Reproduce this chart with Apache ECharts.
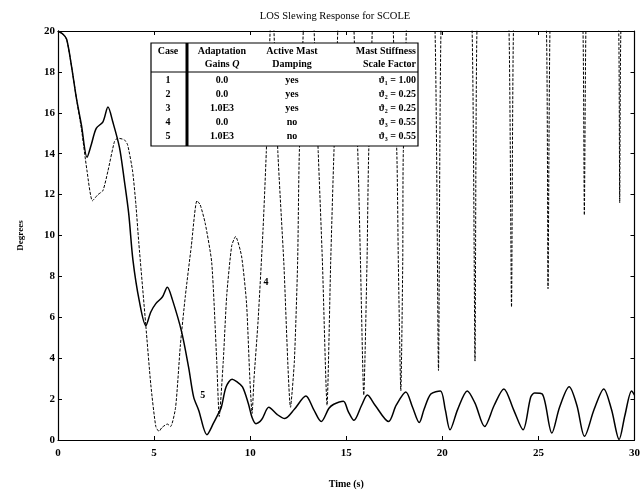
<!DOCTYPE html>
<html><head><meta charset="utf-8">
<script src="https://cdn.jsdelivr.net/npm/echarts@6/dist/echarts.min.js"></script>
<style>html,body{margin:0;padding:0;background:#fff}#c{width:643px;height:494px}</style>
</head><body><div id="c"></div>
<script>
const titleText = 'LOS Slewing Response for SCOLE';
const xName = 'Time (s)';
const yName = 'Degrees';
const xTicks = [0, 5, 10, 15, 20, 25, 30];
const yTicks = [0, 2, 4, 6, 8, 10, 12, 14, 16, 18, 20];

// Case 5 (solid)
const case5T = [0, 0.25, 0.45, 0.7, 0.96, 1.22, 1.51, 1.73, 1.99, 2.34, 2.6, 2.85, 3.2, 3.45, 3.68, 3.9, 4.23, 4.57, 4.83, 5.09, 5.43, 5.69, 5.94, 6.43, 6.8, 7.06, 7.32, 7.75, 8.09, 8.35, 8.5, 8.75, 9.06, 9.3, 9.6, 9.9, 10.1, 10.3, 10.6, 10.97, 11.4, 11.8, 12.3, 12.9, 13.3, 13.7, 14.1, 14.35, 14.85, 15.1, 15.4, 15.8, 16.1, 16.5, 17.2, 17.6, 18.1, 18.45, 18.8, 19.05, 19.4, 19.9, 20.15, 20.4, 20.8, 21.3, 21.7, 22.2, 22.7, 23.2, 23.7, 24.2, 24.6, 24.8, 25.2, 25.7, 26.1, 26.6, 27.0, 27.4, 27.9, 28.4, 28.8, 29.2, 29.5, 29.85, 30];
const case5V = [20, 19.85, 19.6, 18.3, 16.7, 15.4, 13.83, 14.44, 15.24, 15.56, 16.28, 15.56, 14.3, 12.7, 11.07, 8.8, 6.8, 5.6, 6.26, 6.67, 6.99, 7.47, 6.9, 5.3, 3.54, 2.1, 1.46, 0.26, 0.82, 1.3, 1.6, 2.6, 2.97, 2.85, 2.6, 1.8, 1.1, 0.8, 1.0, 1.6, 1.25, 1.05, 1.5, 2.15, 1.5, 0.9, 1.55, 1.75, 1.9, 1.4, 0.96, 1.7, 2.2, 1.7, 0.9, 1.7, 2.35, 1.6, 0.85, 1.5, 2.25, 2.4, 1.5, 0.5, 1.5, 2.4, 1.8, 0.66, 1.7, 2.5, 1.5, 0.5, 2.1, 2.3, 2.25, 0.34, 1.6, 2.6, 1.7, 0.18, 1.5, 2.5, 1.5, 0.03, 1.2, 2.4, 2.2];

// Case 4 (dashed) - peaks above 20 are off the chart (estimated)
const case4T = [0, 0.25, 0.45, 0.7, 0.96, 1.22, 1.51, 1.79, 2.08, 2.34, 2.6, 2.94, 3.11, 3.45, 3.62, 3.88, 4.05, 4.2, 4.57, 4.83, 5.09, 5.26, 5.4, 5.69, 5.86, 6.12, 6.37, 6.63, 6.94, 7.23, 7.4, 7.66, 8.0, 8.26, 8.39, 8.6, 8.78, 9.04, 9.24, 9.55, 9.81, 9.98, 10.1, 10.2, 10.41, 10.67, 10.84, 11.14, 11.44, 11.75, 12.1, 12.3, 12.47, 12.56, 13.05, 13.54, 13.76, 14.0, 14.19, 14.36, 14.98, 15.6, 15.74, 15.91, 16.08, 16.17, 16.9, 17.63, 17.71, 17.84, 17.94, 17.97, 18.8, 19.62, 19.8, 19.93, 20.7, 21.55, 21.7, 21.8, 22.6, 23.47, 23.6, 23.7, 24.5, 25.42, 25.5, 25.6, 26.4, 27.32, 27.39, 27.47, 28.3, 29.18, 29.23, 29.29, 30];
const case4V = [20, 19.85, 19.6, 18.3, 16.7, 15.2, 13.16, 11.7, 12.0, 12.2, 13.16, 14.6, 14.76, 14.68, 14.44, 13.16, 11.55, 9.7, 5.6, 2.7, 0.66, 0.42, 0.6, 0.78, 0.66, 1.6, 4.66, 7.07, 9.5, 11.7, 11.5, 10.6, 8.67, 3.86, 1.15, 3.86, 7.07, 9.5, 9.95, 9.0, 6.7, 3.06, 1.3, 3.0, 5.8, 10.3, 14.1, 22, 14.1, 8.7, 1.6, 3.86, 8.7, 14.1, 26, 14.1, 8.7, 1.7, 8.7, 14.1, 30, 14.1, 8.7, 2.2, 8.7, 14.1, 34, 14.1, 8.7, 2.4, 8.7, 14.1, 40, 20, 3.4, 20, 44, 20, 3.86, 20, 48, 20, 6.5, 20, 52, 20, 7.4, 20, 56, 20, 11.0, 20, 60, 20, 11.6, 20, 45];

const curveLabels = ['4', '5'];
const curveLabelAt = [[10.82, 7.7], [7.53, 2.2]];

// Table content
const headRow1 = ['Case', 'Adaptation', 'Active Mast', 'Mast Stiffness'];
const headRow2 = ['', 'Gains {i|Q}', 'Damping', 'Scale Factor'];
const caseIds = ['1', '2', '3', '4', '5'];
const gains = ['0.0', '0.0', '1.0E3', '0.0', '1.0E3'];
const damping = ['yes', 'yes', 'yes', 'no', 'no'];
const stiffness = ['ϑ₁ = 1.00', 'ϑ₂ = 0.25', 'ϑ₂ = 0.25', 'ϑ₃ = 0.55', 'ϑ₃ = 0.55'];

const chart = echarts.init(document.getElementById('c'), null, {renderer: 'canvas'});
const SERIF = '"Liberation Serif", "DejaVu Serif", serif';
const pair = (t, v) => t.map((x, i) => [x, v[i]]);

const axisLine = {show: true, onZero: false, lineStyle: {color: '#000', width: 1.2}};
const tick = {show: true, inside: true, length: 4, lineStyle: {color: '#000', width: 1}};

// table geometry
const TL = 151, TR = 418, TT = 43, TB = 146, HS = 72, VD = 187;
const colX = [168, 222, 292, 416];
const rowY = caseIds.map((_, i) => 80.5 + 14 * i);
const txtStyle = (text, x, y, align) => ({
  type: 'text', x: x, y: y, z: 20,
  style: {text: text, fill: '#000', font: 'bold 10px ' + SERIF, textAlign: align || 'center', textVerticalAlign: 'middle',
    rich: {i: {fontStyle: 'italic', fontWeight: 'bold', fontSize: 10, fontFamily: SERIF}}}
});
const tableEls = [
  {type: 'rect', shape: {x: TL, y: TT, width: TR - TL, height: TB - TT}, z: 10,
   style: {fill: '#fff', stroke: '#000', lineWidth: 1.2}},
  {type: 'line', shape: {x1: TL, y1: HS, x2: TR, y2: HS}, z: 11, style: {stroke: '#000', lineWidth: 1}},
  {type: 'line', shape: {x1: VD, y1: TT, x2: VD, y2: TB}, z: 11, style: {stroke: '#000', lineWidth: 3}}
];
headRow1.forEach((h, j) => tableEls.push(txtStyle(h, colX[j], 51, j === 3 ? 'right' : 'center')));
headRow2.forEach((h, j) => { if (h) tableEls.push(txtStyle(h, colX[j], 64, j === 3 ? 'right' : 'center')); });
caseIds.forEach((c, i) => {
  tableEls.push(txtStyle(c, colX[0], rowY[i]));
  tableEls.push(txtStyle(gains[i], colX[1], rowY[i]));
  tableEls.push(txtStyle(damping[i], colX[2], rowY[i]));
  tableEls.push(txtStyle(stiffness[i], colX[3], rowY[i], 'right'));
});

const option = {
  backgroundColor: '#fff',
  animation: false,
  title: {text: titleText, left: 330, top: 6, textAlign: 'center',
    textStyle: {fontFamily: SERIF, fontSize: 10.5, fontWeight: 'normal', color: '#000'}},
  grid: {left: 58, right: 3, top: 31, bottom: 47, containLabel: false},
  xAxis: [
    {type: 'value', min: 0, max: 30, interval: 5, position: 'bottom',
     axisLine: axisLine, axisTick: tick, splitLine: {show: false},
     axisLabel: {color: '#000', fontFamily: SERIF, fontWeight: 'bold', fontSize: 11, margin: 8,
       formatter: v => xTicks.includes(v) ? String(v) : ''},
     name: xName, nameLocation: 'middle', nameGap: 39,
     nameTextStyle: {color: '#000', fontFamily: SERIF, fontSize: 10, fontWeight: 'bold'}},
    {type: 'value', min: 0, max: 30, interval: 5, position: 'top',
     axisLine: axisLine, axisTick: tick, axisLabel: {show: false}, splitLine: {show: false}}
  ],
  yAxis: [
    {type: 'value', min: 0, max: 20, interval: 2, position: 'left',
     axisLine: axisLine, axisTick: tick, splitLine: {show: false},
     axisLabel: {color: '#000', fontFamily: SERIF, fontWeight: 'bold', fontSize: 11, margin: 3,
       formatter: v => yTicks.includes(v) ? String(v) : ''},
     name: yName, nameLocation: 'middle', nameGap: 33, nameRotate: 90,
     nameTextStyle: {color: '#000', fontFamily: SERIF, fontSize: 9, fontWeight: 'bold'}},
    {type: 'value', min: 0, max: 20, interval: 2, position: 'right',
     axisLine: axisLine, axisTick: tick, axisLabel: {show: false}, splitLine: {show: false}}
  ],
  series: [
    {name: 'Case 4', type: 'line', xAxisIndex: 0, yAxisIndex: 0, data: pair(case4T, case4V),
     showSymbol: false, smooth: 0.2, clip: true,
     lineStyle: {color: '#000', width: 1, type: [3, 1.5]},
     markPoint: {symbol: 'circle', symbolSize: 0, silent: true,
       label: {show: true, position: 'inside', color: '#000', fontFamily: SERIF, fontWeight: 'bold', fontSize: 10,
         formatter: p => p.name},
       data: [{name: curveLabels[0], coord: curveLabelAt[0]}]}},
    {name: 'Case 5', type: 'line', xAxisIndex: 0, yAxisIndex: 0, data: pair(case5T, case5V),
     showSymbol: false, smooth: 0.3, clip: true,
     lineStyle: {color: '#000', width: 1.5},
     markPoint: {symbol: 'circle', symbolSize: 0, silent: true,
       label: {show: true, position: 'inside', color: '#000', fontFamily: SERIF, fontWeight: 'bold', fontSize: 10,
         formatter: p => p.name},
       data: [{name: curveLabels[1], coord: curveLabelAt[1]}]}}
  ],
  graphic: tableEls
};
chart.setOption(option);
</script>
</body></html>
